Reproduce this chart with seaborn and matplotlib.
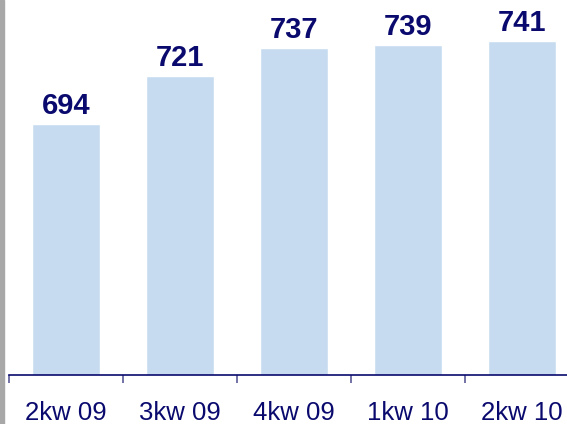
import pandas as pd
import seaborn as sns
import matplotlib.pyplot as plt
from matplotlib.patches import Rectangle

# dane z wykresu
kwartaly = ['2kw 09', '3kw 09', '4kw 09', '1kw 10', '2kw 10']
wartosci = [694, 721, 737, 739, 741]

df = pd.DataFrame({'kwartal': kwartaly, 'wartosc': wartosci})

sns.set_style('white')
plt.rcParams['font.family'] = ['Liberation Sans', 'DejaVu Sans']

granat = '#0a0a6e'
niebieski = '#c6dbef'

fig = plt.figure(figsize=(5.67, 4.24), dpi=100)
ax = fig.add_axes([9 / 567, 49 / 424, 558 / 567, 375 / 424])

sns.barplot(data=df, x='kwartal', y='wartosc', color=niebieski, width=0.6,
            saturation=1, ax=ax)

ax.set_xlabel('')
ax.set_ylabel('')
ax.set_yticks([])

# etykiety wartosci nad slupkami
for i, v in enumerate(wartosci):
    ax.annotate(str(v), (i, v), xytext=(0, 3), textcoords='offset points',
                ha='center', va='bottom', fontsize=21, fontweight='bold',
                color=granat)

# os x z podzialka miedzy kategoriami
ax.set_xticks(range(len(kwartaly)))
ax.set_xticklabels(kwartaly, fontsize=18.5, color=granat)
ax.tick_params(axis='x', length=0, pad=19)
ax.set_xticks([i - 0.5 for i in range(len(kwartaly) + 1)], minor=True)
ax.tick_params(axis='x', which='minor', length=6, width=1.2, color='#5a5a9a',
               direction='out', bottom=True)

# zakresy ustawione po tickach, zeby ich nie rozszerzaly
ax.set_ylim(552, 764.3)
ax.set_xlim(-0.5, 4.395)

for s in ['top', 'right', 'left']:
    ax.spines[s].set_visible(False)
ax.spines['bottom'].set_color(granat)
ax.spines['bottom'].set_linewidth(1.2)

# szary pasek po lewej stronie
fig.patches.append(Rectangle((0, 0), 4 / 567, 1, transform=fig.transFigure,
                             color='#a8a8a8', zorder=0))

fig.savefig('out.png', dpi=100)
